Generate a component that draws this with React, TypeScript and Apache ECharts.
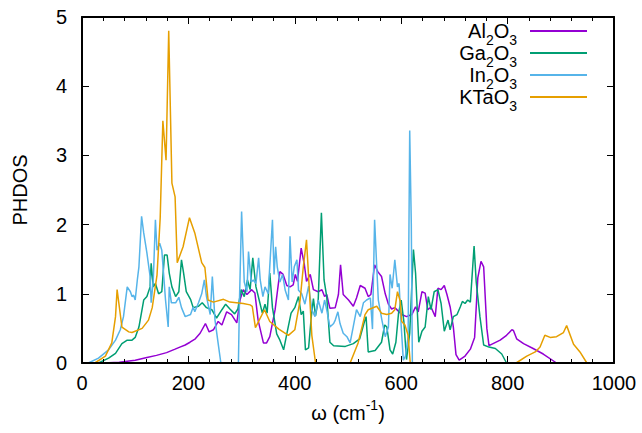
import React, { useEffect, useRef } from "react";
import * as echarts from "echarts";

type Pt = [number, number | null];

const SERIES_NAMES = ["Al2O3", "Ga2O3", "In2O3", "KTaO3"];
const LEGEND_RICH = [
  "{b|Al}{s|2}{b|O}{s|3}{g|}",
  "{b|Ga}{s|2}{b|O}{s|3}{g|}",
  "{b|In}{s|2}{b|O}{s|3}{g|}",
  "{b|KTaO}{s|3}{g|}",
];
const COLORS = ["#9400d3", "#009e73", "#56b4e9", "#e69f00"];

const X_MIN = 0;
const X_MAX = 1000;
const X_STEP = 200;
const Y_MIN = 0;
const Y_MAX = 5;
const Y_STEP = 1;

const AL2O3: Pt[] = [
  [40, 0], [70, 0.01], [100, 0.04], [122, 0.08], [140, 0.11], [159, 0.15], [175, 0.2], [184, 0.23],
  [194, 0.26], [203, 0.3], [213, 0.35], [222, 0.43], [232, 0.57], [239, 0.45], [247, 0.48], [256, 0.6],
  [263, 0.55], [272, 0.74], [281, 0.7], [291, 0.58], [297, 0.91], [303, 1.06], [310, 0.99], [319, 1.06],
  [325, 1.01], [331, 0.62], [341, 0.29], [347, 0.29], [353, 0.38], [363, 0.77], [372, 1.32], [378, 1.28],
  [385, 1.12], [391, 1.1], [397, 1.13], [401, 1.28], [405, 1.18], [412, 1.66], [418, 1.42], [422, 1.18],
  [429, 1.28], [435, 1.06], [444, 1.03], [451, 1.06], [456, 0.96], [460, 0.99], [466, 0.79], [476, 0.8],
  [482, 0.99], [486, 1.42], [491, 0.99], [501, 0.91], [510, 0.82], [516, 0.94], [523, 1.12], [532, 1.08],
  [538, 0.96], [543, 0.99], [550, 1.42], [556, 1.32], [563, 1.25], [570, 1.0], [576, 0.85], [582, 0.78],
  [588, 0.8], [601, 0.7], [610, 0.67], [620, 0.7], [627, 0.81], [632, 0.74], [639, 1.03], [645, 1.01],
  [650, 0.77], [656, 0.81], [664, 0.67], [669, 1.08], [675, 1.06], [681, 1.12], [686, 0.99], [692, 0.81],
  [698, 0.52], [703, 0.12], [709, 0.04], [720, 0.1], [730, 0.2], [738, 0.37], [744, 1.23], [750, 1.47],
  [755, 1.39], [761, 0.5], [765, 0.25], [786, 0.33], [798, 0.4], [808, 0.48], [811, 0.47], [817, 0.35],
  [830, 0.28], [848, 0.21], [867, 0.13], [892, 0],
];

const GA2O3: Pt[] = [
  [31, 0], [50, 0.07], [63, 0.14], [75, 0.28], [85, 0.33], [94, 0.33], [100, 0.37], [107, 0.52],
  [116, 0.91], [122, 0.96], [128, 1.1], [130, 1.44], [134, 1.1], [138, 1.15], [144, 1.0], [150, 1.03],
  [155, 1.56], [160, 1.56], [164, 1.3], [169, 1.1], [176, 0.96], [182, 1.03], [187, 1.49], [191, 1.3],
  [196, 1.03], [204, 0.92], [209, 0.8], [219, 0.82], [226, 0.87], [234, 0.8], [244, 0.77], [253, 0.65],
  [263, 0.77], [270, 0.85], [278, 0.78], [287, 0.71], [293, 0.78], [299, 1.06], [305, 0.96], [311, 1.2],
  [316, 1.06], [321, 1.52], [327, 1.1], [333, 0.91], [339, 0.72], [344, 0.85], [348, 0.72], [353, 1.3],
  [358, 0.8], [366, 0.42], [372, 0.33], [379, 0.19], [385, 0.42], [393, 0.72], [400, 0.8], [407, 0.96],
  [412, 0.7], [416, 0.75], [420, 0.19], [426, 0.22], [431, 0.67], [435, 0.93], [439, 0.68], [444, 0.91],
  [450, 2.17], [455, 1.2], [460, 0.96], [466, 0.3], [473, 0.25], [495, 0.24], [510, 0.28], [522, 0.35],
  [531, 0.6], [534, 0.67], [538, 0.16], [551, 0.18], [563, 0.3], [569, 0.55], [573, 0.52], [579, 0.19],
  [584, 0.13], [590, 0.3], [595, 0.72], [600, 0.91], [605, 0.6], [610, 0.05], [616, 0.43], [623, 1.64],
  [627, 1.3], [633, 0.3], [639, 0.46], [645, 0.52], [651, 0.96], [656, 0.77], [662, 1.03], [669, 1.06],
  [675, 0.86], [681, 0.46], [688, 0.62], [692, 0.48], [698, 0.67], [705, 0.7], [711, 0.81], [715, 0.89],
  [720, 0.86], [725, 0.91], [730, 0.88], [737, 1.69], [741, 1.17], [748, 0.67], [755, 0.26], [765, 0.23],
  [777, 0.21], [783, 0.17], [789, 0.13], [798, 0],
];

const IN2O3: Pt[] = [
  [12, 0], [31, 0.07], [50, 0.19], [63, 0.33], [72, 0.48], [78, 0.67], [85, 1.1], [91, 1.03],
  [94, 0.96], [97, 0.98], [100, 0.91], [104, 1.2], [107, 1.39], [112, 2.12], [116, 1.88], [122, 1.59],
  [128, 1.25], [130, 0.87], [134, 1.2], [138, 2.07], [141, 1.63], [146, 1.73], [150, 1.63], [157, 0.91],
  [162, 0.52], [164, 1.1], [168, 0.87], [176, 0.87], [182, 0.95], [187, 0.8], [194, 0.67], [204, 0.7],
  [209, 0.81], [212, 0.74], [219, 0.87], [225, 1.0], [230, 1.2], [234, 0.96], [241, 0.7], [245, 1.25],
  [250, 0.62], [256, 0.28], [261, 0], [277, null], [294, 0], [296, 0.9], [300, 2.19], [305, 1.17],
  [310, 1.03], [313, 1.61], [318, 1.17], [322, 1.2], [327, 1.15], [332, 1.52], [335, 1.2], [340, 0.96],
  [344, 1.1], [350, 1.0], [358, 2.07], [361, 1.28], [364, 1.68], [367, 1.39], [372, 1.17], [377, 1.28],
  [382, 1.05], [388, 0.91], [391, 1.83], [395, 1.17], [399, 1.39], [404, 1.49], [407, 1.05], [413, 1.0],
  [419, 0.85], [426, 1.11], [432, 0.77], [438, 0.67], [444, 0.91], [451, 0.72], [456, 0.91], [460, 0.77],
  [466, 0.52], [473, 0.57], [476, 0.62], [481, 0.74], [485, 0.57], [491, 0.43], [498, 0.38], [504, 0.29],
  [510, 0.53], [516, 0.77], [523, 0.67], [529, 0.87], [535, 0.91], [542, 0.94], [546, 0.49], [550, 2.07],
  [554, 1.39], [557, 0.91], [564, 0.61], [570, 0.38], [576, 0.52], [579, 1.28], [583, 1.08], [588, 1.49],
  [593, 1.1], [596, 1.15], [600, 0.53], [604, 0.04], [608, 0.1], [613, 0.38], [616, 3.36], [619, 2.0],
  [621, 0],
];

const KTAO3: Pt[] = [
  [24, 0], [44, 0.1], [56, 0.29], [63, 0.67], [66, 1.06], [75, 0.52], [88, 0.45], [94, 0.44],
  [113, 0.5], [125, 0.62], [132, 0.8], [141, 1.27], [147, 2.1], [152, 3.5], [158, 2.93], [163, 4.8],
  [169, 2.6], [175, 2.4], [179, 1.45], [190, 1.68], [202, 2.1], [212, 1.88], [225, 1.45], [231, 1.38],
  [237, 0.91], [247, 0.88], [266, 0.92], [278, 0.88], [303, 0.86], [316, 0.84], [320, 0.82], [326, 0.51],
  [343, 0.77], [353, 0.6], [370, 0.49], [388, 0.4], [400, 0.48], [410, 0.91], [416, 1.39], [422, 1.78],
  [427, 1.1], [432, 0.4], [439, 0], [470, null], [504, 0], [519, 0.29], [532, 0.7], [538, 0.77],
  [554, 0.82], [563, 0.72], [573, 0.7], [582, 0.72], [588, 0.77], [593, 1.03], [598, 0.9], [601, 0.6],
  [607, 0.55], [613, 0.4], [617, 0], [700, null], [816, 0], [836, 0.1], [852, 0.16], [861, 0.23],
  [870, 0.4], [880, 0.37], [892, 0.38], [905, 0.44], [911, 0.54], [924, 0.27], [936, 0.16], [949, 0],
];

const SERIES_DATA = [AL2O3, GA2O3, IN2O3, KTAO3];

const FONT = "Liberation Sans, Arial, sans-serif";

export default function App() {
  const ref = useRef<HTMLDivElement>(null);

  useEffect(() => {
    document.body.style.margin = "0";
    if (!ref.current) return;
    const chart = echarts.init(ref.current, null, { renderer: "svg" });

    const axisLine = { show: true, onZero: false, lineStyle: { color: "#000", width: 2 } };
    const tick = { show: true, inside: true, length: 7, lineStyle: { color: "#000", width: 1 } };
    const minor = { show: true, splitNumber: 5, length: 4, lineStyle: { color: "#000", width: 1 } };
    const labelStyle = { color: "#000", fontSize: 20, fontFamily: FONT };

    const legendMap: Record<string, string> = {};
    SERIES_NAMES.forEach((n, i) => (legendMap[n] = LEGEND_RICH[i]));

    chart.setOption({
      animation: false,
      backgroundColor: "#fff",
      grid: { left: 82, right: 28, top: 17, bottom: 70, containLabel: false },
      legend: {
        data: SERIES_NAMES,
        orient: "vertical",
        align: "right",
        right: 55,
        top: 21,
        padding: 0,
        itemGap: -4,
        itemWidth: 57,
        itemHeight: 2,
        icon: "rect",
        selectedMode: false,
        formatter: (name: string) => legendMap[name],
        textStyle: {
          color: "#000",
          fontFamily: FONT,
          fontSize: 20,
          rich: {
            b: { fontSize: 20, fontFamily: FONT, color: "#000", lineHeight: 32 },
            s: { fontSize: 14, fontFamily: FONT, color: "#000", lineHeight: 20, verticalAlign: "bottom" },
            g: { width: 8 },
          },
        },
      },
      xAxis: [
        {
          type: "value",
          min: X_MIN,
          max: X_MAX,
          interval: X_STEP,
          position: "bottom",
          z: 10,
          axisLine,
          axisTick: tick,
          minorTick: minor,
          splitLine: { show: false },
          minorSplitLine: { show: false },
          axisLabel: { ...labelStyle, margin: 10, formatter: (v: number) => String(v) },
          name: "{b|ω (cm}{p|-1}{b|)}",
          nameLocation: "middle",
          nameGap: 35,
          nameTextStyle: {
            ...labelStyle,
            rich: {
              b: { fontSize: 20, fontFamily: FONT, color: "#000", lineHeight: 30 },
              p: { fontSize: 14, fontFamily: FONT, color: "#000", lineHeight: 16, verticalAlign: "top" },
            },
          },
        },
        {
          type: "value",
          min: X_MIN,
          max: X_MAX,
          interval: X_STEP,
          position: "top",
          z: 10,
          axisLine,
          axisTick: tick,
          minorTick: minor,
          splitLine: { show: false },
          axisLabel: { show: false },
        },
      ],
      yAxis: [
        {
          type: "value",
          min: Y_MIN,
          max: Y_MAX,
          interval: Y_STEP,
          position: "left",
          z: 10,
          axisLine,
          axisTick: tick,
          splitLine: { show: false },
          axisLabel: { ...labelStyle, margin: 15 },
          name: "PHDOS",
          nameLocation: "middle",
          nameGap: 52,
          nameTextStyle: labelStyle,
        },
        {
          type: "value",
          min: Y_MIN,
          max: Y_MAX,
          interval: Y_STEP,
          position: "right",
          z: 10,
          axisLine,
          axisTick: tick,
          splitLine: { show: false },
          axisLabel: { show: false },
        },
      ],
      series: SERIES_NAMES.map((name, i) => ({
        name,
        type: "line",
        xAxisIndex: 0,
        yAxisIndex: 0,
        data: SERIES_DATA[i],
        symbol: "none",
        showSymbol: false,
        connectNulls: false,
        clip: true,
        color: COLORS[i],
        lineStyle: { color: COLORS[i], width: 1.5 },
        z: 2 + i,
      })),
    });

    return () => chart.dispose();
  }, []);

  return (
    <div
      ref={ref}
      style={{ position: "fixed", left: 0, top: 0, width: 642, height: 433, background: "#fff" }}
    />
  );
}
